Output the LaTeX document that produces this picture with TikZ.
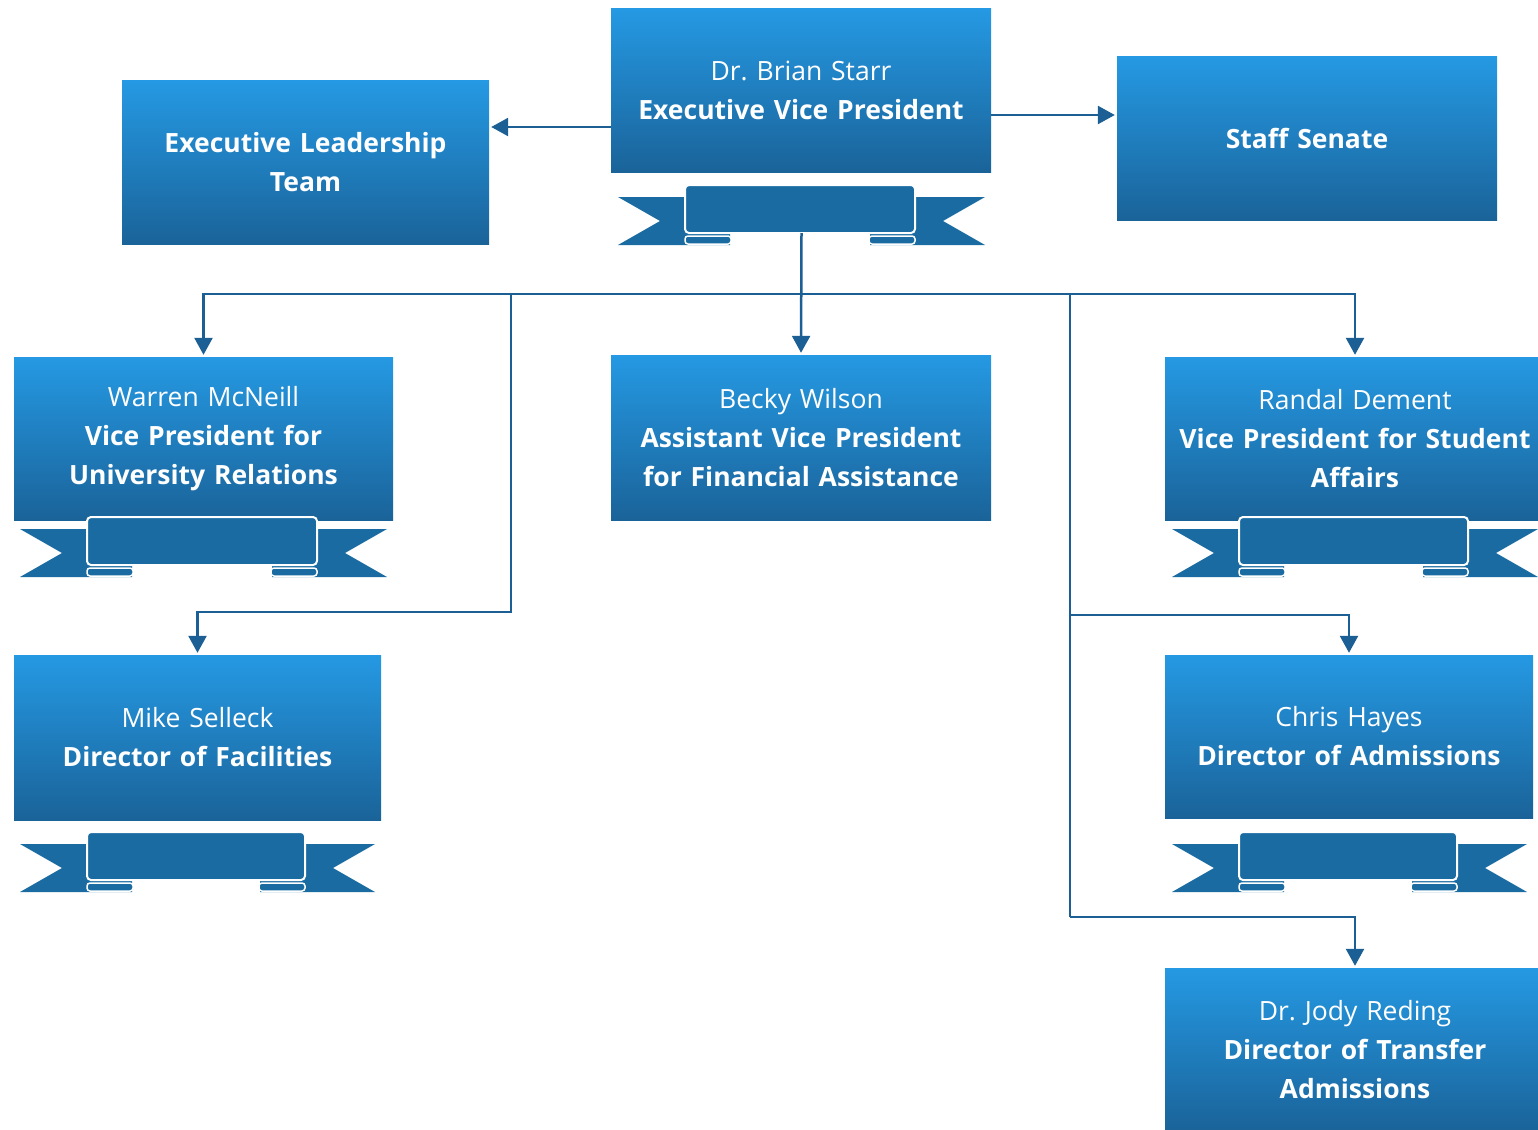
\documentclass[tikz,border=0pt]{standalone}
\usepackage{fontspec}
\setmainfont{Open Sans}
\usetikzlibrary{arrows.meta}
\frenchspacing
\definecolor{boxtop}{HTML}{2599E3}
\definecolor{boxbot}{HTML}{1A6399}
\definecolor{ribbonc}{HTML}{196BA1}
\definecolor{linec}{HTML}{1B5F94}
\newcommand\drawribbon[4]{%
  \fill[ribbonc] ({#2},{#4+12}) -- ({#2+112},{#4+12}) -- ({#2+112},{#4+60}) -- ({#2},{#4+60}) -- ({#2+42},{#4+36}) -- cycle;
  \fill[ribbonc] ({#3},{#4+12}) -- ({#3-115},{#4+12}) -- ({#3-115},{#4+60}) -- ({#3},{#4+60}) -- ({#3-42},{#4+36}) -- cycle;
  \path[fill=ribbonc, draw=white, line width=1.5pt, rounded corners=3pt] ({#2+67},{#4+51}) rectangle ({#2+113},{#4+59});
  \path[fill=ribbonc, draw=white, line width=1.5pt, rounded corners=3pt] ({#3-116},{#4+51}) rectangle ({#3-70},{#4+59});
  \path[fill=ribbonc, draw=white, line width=2pt, rounded corners=4pt] ({#2+67},{#4}) rectangle ({#3-70},{#4+48});
  \coordinate (#1) at ({(#2+#3)/2},{#4+48});
}
\begin{document}
\begin{tikzpicture}[x=1pt,y=-1pt,
  box/.style={rectangle, top color=boxtop, bottom color=boxbot, text=white, align=center,
    inner sep=2pt, font=\fontsize{26.5}{39}\selectfont},
  line/.style={draw=linec, line width=2.5pt},
  arr/.style={line, -{Triangle[width=18pt,length=17pt]}, shorten >=2pt}]
\useasboundingbox (0,0) rectangle (1538,1129);

% connectors
\coordinate (a1) at (0,127);
\coordinate (a2) at (0,115);
\coordinate (bus) at (801,294);
\coordinate (lb) at (511,294);
\coordinate (lk) at (511,612);
\coordinate (rb) at (1070,294);
\coordinate (rk1) at (1070,615);
\coordinate (rk2) at (1070,917);

% boxes
\node[box, minimum width=380pt, minimum height=163pt, text width=374pt] (evp) at (801,90.5)
  {Dr. Brian Starr\\\textbf{Executive Vice President}};
\node[box, minimum width=367pt, minimum height=163pt, text width=361pt] (elt) at (305.5,162.5)
  {\textbf{Executive Leadership}\\\textbf{Team}};
\node[box, minimum width=380pt, minimum height=163pt, text width=374pt] (staff) at (1307,138.5)
  {\textbf{Staff Senate}};
\node[box, minimum width=379pt, minimum height=163pt, text width=373pt] (warren) at (203.5,438.5)
  {Warren McNeill\\\textbf{Vice President for}\\\textbf{University Relations}};
\node[box, minimum width=380pt, minimum height=165pt, text width=374pt] (becky) at (801,437.5)
  {Becky Wilson\\\textbf{Assistant Vice President}\\\textbf{for Financial Assistance}};
\node[box, minimum width=380pt, minimum height=163pt, text width=374pt] (randal) at (1355,438.5)
  {Randal Dement\\\textbf{Vice President for Student}\\\textbf{Affairs}};
\node[box, minimum width=367pt, minimum height=165pt, text width=361pt] (mike) at (197.5,737.5)
  {Mike Selleck\\\textbf{Director of Facilities}};
\node[box, minimum width=368pt, minimum height=163pt, text width=362pt] (chris) at (1349,736.5)
  {Chris Hayes\\\textbf{Director of Admissions}};
\node[box, minimum width=380pt, minimum height=163pt, text width=374pt] (jody) at (1355,1049.5)
  {Dr. Jody Reding\\\textbf{Director of Transfer}\\\textbf{Admissions}};

% ribbons
\drawribbon{evpr}{618}{985}{185}
\drawribbon{warrenr}{20}{387}{517}
\drawribbon{randalr}{1172}{1538}{517}
\drawribbon{miker}{20}{375}{832}
\drawribbon{chrisr}{1172}{1527}{832}

\draw[arr] (evp.west |- a1) -- (elt.east |- a1);
\draw[arr] (evp.east |- a2) -- (staff.west |- a2);
\draw[arr] (evpr) -- (becky.north);
\draw[arr] (bus) -| (warren.north);
\draw[arr] (bus) -| (randal.north);
\draw[arr] (lb) -- (lk) -| (mike.north);
\draw[line] (rb) -- (rk2);
\draw[arr] (rk1) -| (chris.north);
\draw[arr] (rk2) -| (jody.north);
\end{tikzpicture}
\end{document}
